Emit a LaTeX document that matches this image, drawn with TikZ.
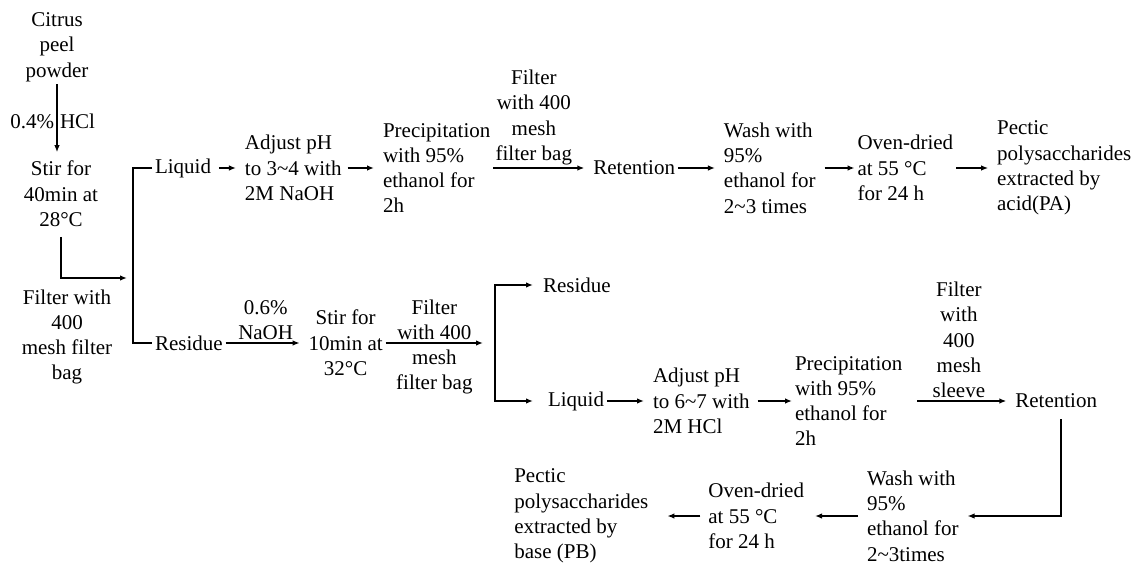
\documentclass[tikz,border=0pt]{standalone}
\usepackage{fontspec}
\setmainfont{Liberation Serif}
\usetikzlibrary{positioning, arrows.meta}

\begin{document}
\begin{tikzpicture}[x=1pt, y=-1pt, line width=1.5pt, >={Latex[length=7pt,width=5.5pt]},
	every node/.style={font=\fontsize{21}{25.3}\selectfont, inner sep=3pt, outer sep=0pt},
	box/.style={align=left},
	cbox/.style={align=center},
	go/.style={->, shorten >=6pt}]
	\useasboundingbox (0,0) rectangle (1140,564);
	\node[cbox] (peel) at (57,47) {Citrus\\peel\\powder};
	\node[cbox] (stir1) at (61,194) {Stir for\\40min at\\28°C};
	\node[cbox] (filt1) at (67,337) {Filter with\\400\\mesh filter\\bag};
	\coordinate (split1) at (133,278);
	\node[box, anchor=west] (liq1) at (152,168) {Liquid};
	\node[box, right=28pt of liq1] (adj1) {Adjust pH\\to 3\textasciitilde4 with\\2M NaOH};
	\node[box, right=35.5pt of adj1] (prec1) {Precipitation\\with 95\%\\ethanol for\\2h};
	\node[box, right=97pt of prec1] (ret1) {Retention};
	\node[box, right=43pt of ret1] (wash1) {Wash with\\95\%\\ethanol for\\2\textasciitilde3 times};
	\node[box, right=36pt of wash1] (oven1) {Oven-dried\\at 55 °C\\for 24 h};
	\node[box, right=38pt of oven1] (pect1) {Pectic\\polysaccharides\\extracted by\\acid(PA)};
	\node[box, anchor=west] (res1) at (152,343) {Residue};
	\node[cbox, right=80pt of res1] (stir2) {Stir for\\10min at\\32°C};
	\coordinate (split2) at (495,343);
	\node[box, anchor=west] (res2) at (540,285) {Residue};
	\node[box, anchor=west] (liq2) at (545,401) {Liquid};
	\node[box, right=43pt of liq2] (adj2) {Adjust pH\\to 6\textasciitilde7 with\\2M HCl};
	\node[box, right=39.5pt of adj2] (prec2) {Precipitation\\with 95\%\\ethanol for\\2h};
	\node[box, right=107pt of prec2] (ret2) {Retention};
	\node[box, anchor=west] (wash2) at (864,516) {Wash with\\95\%\\ethanol for\\2\textasciitilde3times};
	\node[box, left=57pt of wash2] (oven2) {Oven-dried\\at 55 °C\\for 24 h};
	\node[box, left=54pt of oven2] (pect2) {Pectic\\polysaccharides\\extracted by\\base (PB)};
	\draw[go] (peel.south) -- node[left]{0.4\%} node[right]{HCl} (peel.south |- stir1.north);
	\draw[go, shorten <=7pt] (stir1.south) |- (split1);
	\draw (liq1.west) -| (split1) |- (res1.west);
	\draw[go, shorten <=5pt] (liq1) -- (adj1);
	\draw[go, shorten <=3pt] (adj1) -- (prec1);
	\draw[go] (prec1) -- node[cbox, above, xshift=-8pt]{Filter\\with 400\\mesh\\filter bag} (ret1);
	\draw[go] (ret1) -- (wash1);
	\draw[->, shorten <=6pt] (wash1) -- (oven1);
	\draw[go] (oven1) -- (pect1);
	\draw[go] (res1) -- node[cbox, above]{0.6\%\\NaOH} (stir2);
	\draw[->, shorten >=12pt] (stir2) -- node[cbox, above, xshift=-6pt]{Filter\\with 400} node[cbox, below, xshift=-6pt, yshift=-4pt]{mesh\\filter bag} (split2);
	\draw[->, shorten >=7pt] (split2) |- (res2);
	\draw[->, shorten >=12pt] (split2) |- (liq2);
	\draw[go] (liq2) -- (adj2);
	\draw[->, shorten <=5pt] (adj2) -- (prec2);
	\draw[go, shorten <=12pt] (prec2) -- node[cbox, above]{Filter\\with\\400\\mesh\\sleeve} (ret2);
	\draw[go, shorten <=8pt] ([xshift=5pt]ret2.south) |- (wash2);
	\draw[->, shorten <=6pt, shorten >=8pt] (wash2) -- (oven2);
	\draw[->, shorten <=5pt, shorten >=16pt] (oven2) -- (pect2);
\end{tikzpicture}
\end{document}
